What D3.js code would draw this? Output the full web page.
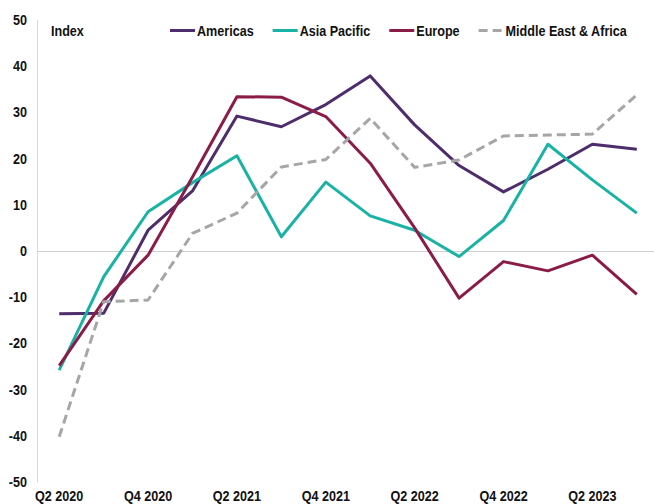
<!DOCTYPE html>
<html>
<head>
<meta charset="utf-8">
<script src="https://cdn.jsdelivr.net/npm/d3@7"></script>
<style>
  body { margin: 0; background: #fff; }
  text { font-family: "Liberation Sans", Arial, sans-serif; font-weight: bold; fill: #111; }
</style>
</head>
<body>
<div id="chart"></div>
<script>
const quarters = ['Q2 2020', 'Q3 2020', 'Q4 2020', 'Q1 2021', 'Q2 2021', 'Q3 2021', 'Q4 2021',
    'Q1 2022', 'Q2 2022', 'Q3 2022', 'Q4 2022', 'Q1 2023', 'Q2 2023', 'Q3 2023'];
const xTickLabels = ['Q2 2020', 'Q4 2020', 'Q2 2021', 'Q4 2021', 'Q2 2022', 'Q4 2022', 'Q2 2023'];
const yTicks = [-50, -40, -30, -20, -10, 0, 10, 20, 30, 40, 50];

const americas = [-13.6, -13.5, 4.5, 13.0, 29.2, 26.9, 31.7, 37.9, 27.3, 18.5, 12.8, 17.7, 23.1, 22.0];
const asiaPacific = [-25.8, -5.6, 8.5, 14.8, 20.6, 3.1, 14.9, 7.6, 4.5, -1.2, 6.6, 23.1, 15.4, 8.2];
const europe = [-24.8, -10.8, -0.9, 16.0, 33.4, 33.3, 29.1, 19.0, 5.0, -10.2, -2.3, -4.3, -0.9, -9.4];
const middleEastAfrica = [-40.2, -11.0, -10.6, 3.8, 8.2, 18.2, 19.8, 28.7, 18.1, 19.7, 24.9, 25.1, 25.3, 33.8];

const series = [
    { name: 'Americas', values: americas, color: '#4e2d6d', dash: null },
    { name: 'Asia Pacific', values: asiaPacific, color: '#19b3a6', dash: null },
    { name: 'Europe', values: europe, color: '#8a1c47', dash: null },
    { name: 'Middle East & Africa', values: middleEastAfrica, color: '#a6a6a6', dash: '9,5' }
];

const width = 654, height = 504;
const fontSize = 14, squeeze = 0.9;

const svg = d3.select('#chart').append('svg')
    .attr('width', width)
    .attr('height', height);

const xScale = d3.scalePoint()
    .domain(quarters)
    .range([37, 659])
    .padding(0.5);
const yScale = d3.scaleLinear()
    .domain([-50, 50])
    .range([482, 20]);

// condensed bold text, like the original
function label(x, y, str, anchor) {
    return svg.append('text')
        .attr('transform', `translate(${x},${y}) scale(${squeeze},1)`)
        .attr('text-anchor', anchor)
        .style('font-size', fontSize + 'px')
        .text(str);
}

// y axis line and zero line
svg.append('line')
    .attr('x1', 37.5).attr('x2', 37.5)
    .attr('y1', yScale(50)).attr('y2', yScale(-50))
    .attr('stroke', '#d9d9d9').attr('stroke-width', 1);
svg.append('line')
    .attr('x1', 37).attr('x2', width)
    .attr('y1', Math.round(yScale(0)) + 0.5).attr('y2', Math.round(yScale(0)) + 0.5)
    .attr('stroke', '#cfcfcf').attr('stroke-width', 1);

yTicks.forEach(t => label(27, yScale(t) + 5, t, 'end'));
xTickLabels.forEach(q => label(xScale(q), 501, q, 'middle'));

const line = d3.line()
    .x((d, i) => xScale(quarters[i]))
    .y(d => yScale(d));

series.forEach(s => {
    svg.append('path')
        .datum(s.values)
        .attr('fill', 'none')
        .attr('stroke', s.color)
        .attr('stroke-width', 3)
        .attr('stroke-linejoin', 'round')
        .attr('stroke-dasharray', s.dash)
        .attr('d', line);
});

// legend
label(51, 36, 'Index', 'start');
let lx = 170;
series.forEach(s => {
    svg.append('line')
        .attr('x1', lx).attr('x2', lx + 25)
        .attr('y1', 30.5).attr('y2', 30.5)
        .attr('stroke', s.color)
        .attr('stroke-width', 3)
        .attr('stroke-dasharray', s.dash);
    const t = label(lx + 27, 36, s.name, 'start');
    lx += 27 + t.node().getComputedTextLength() * squeeze + 19;
});
</script>
</body>
</html>
